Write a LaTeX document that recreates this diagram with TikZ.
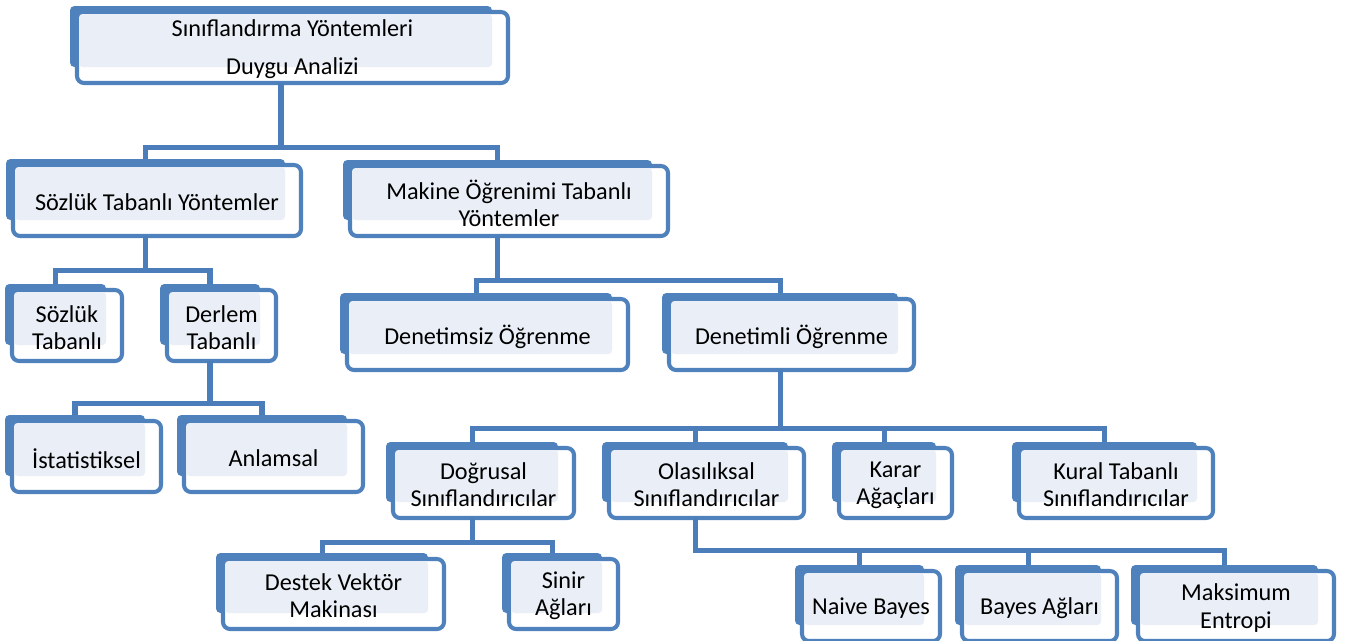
\documentclass[tikz,border=0pt]{standalone}
\usepackage{fontspec}
\setmainfont{Carlito}

\definecolor{kutumavi}{HTML}{4F81BD}
\definecolor{kutuacik}{HTML}{EAEFF7}
\definecolor{hatmavi}{HTML}{4A7DB9}

% Box: back plate, front frame, light inner field and label
\newcommand{\kutu}[6]{%
	\fill [kutuarka] (#2, #3) rectangle (#4, #5);
	\filldraw [kutuon] (#2 + 7, #3 + 6) rectangle (#4 + 16, #5 + 16);
	\fill [kutuic] (#2 + 9, #3 + 8) rectangle (#4, #5);
	\node [metin] (#1) at ({(#2 + #4) / 2 + 11.5}, {(#3 + #5) / 2 + 13}) {#6};
	\coordinate (#1-ust) at ({(#2 + #4) / 2}, #3);
	\coordinate (#1-alt) at ({(#2 + #4) / 2}, #5 + 16);
}

\begin{document}
\begin{tikzpicture}[x = 0.02cm, y = -0.02cm,
	kutuarka/.style = {fill = kutumavi, rounded corners = 2.5pt},
	kutuon/.style = {fill = white, draw = kutumavi, line width = 2.3pt, rounded corners = 4pt},
	kutuic/.style = {fill = kutuacik, rounded corners = 2pt},
	metin/.style = {align = center, inner sep = 0pt, font = \fontsize{13.8}{15.4}\selectfont},
	baglanti/.style = {draw = hatmavi, line width = 2.85pt}]

	% Frame

	\useasboundingbox (0, 0) rectangle (1349, 640);

	% Level 1

	\kutu{kok}{70}{6}{492}{67}{S\i n\i fland\i rma Yöntemleri\\[6.2pt]Duygu Analizi}

	% Level 2

	\kutu{sozlukY}{6}{159}{285}{220}{Sözlük Tabanl\i{} Yöntemler}
	\kutu{makine}{343}{160}{652}{220}{Makine Öğrenimi Tabanl\i\\Yöntemler}

	% Level 3

	\kutu{sozluk}{5}{284}{106}{345}{Sözlük\\Tabanl\i}
	\kutu{derlem}{160}{284}{260}{345}{Derlem\\Tabanl\i}
	\kutu{denetimsiz}{340}{293}{612}{354}{Denetimsiz Öğrenme}
	\kutu{denetimli}{662}{293}{898}{354}{Denetimli Öğrenme}

	% Level 4

	\kutu{istat}{5}{415}{145}{476}{İstatistiksel}
	\kutu{anlam}{177}{415}{347}{476}{Anlamsal}
	\kutu{dogrusal}{386}{442}{558}{502}{Doğrusal\\S\i n\i fland\i r\i c\i lar}
	\kutu{olasilik}{602}{442}{788}{502}{Olas\i l\i ksal\\S\i n\i fland\i r\i c\i lar}
	\kutu{karar}{832}{442}{936}{502}{Karar\\Ağaçlar\i}
	\kutu{kural}{1012}{442}{1197}{502}{Kural Tabanl\i\\S\i n\i fland\i r\i c\i lar}

	% Level 5

	\kutu{destek}{216}{553}{428}{613}{Destek Vektör\\Makinas\i}
	\kutu{sinir}{502}{553}{602}{613}{Sinir\\Ağlar\i}
	\kutu{naive}{795}{565}{924}{625}{Naive Bayes}
	\kutu{bayes}{955}{565}{1101}{625}{Bayes Ağlar\i}
	\kutu{maks}{1131}{565}{1318}{625}{Maksimum\\Entropi}

	% Connectors

	\begin{scope}[baglanti]

		\draw (kok-alt) -- ++(0, 64) -| (sozlukY-ust);
		\draw (kok-alt) -- ++(0, 64) -| (makine-ust);

		\draw (sozlukY-alt) -- ++(0, 34) -| (sozluk-ust);
		\draw (sozlukY-alt) -- ++(0, 34) -| (derlem-ust);

		\draw (makine-alt) -- ++(0, 44) -| (denetimsiz-ust);
		\draw (makine-alt) -- ++(0, 44) -| (denetimli-ust);

		\draw (derlem-alt) -- ++(0, 42) -| (istat-ust);
		\draw (derlem-alt) -- ++(0, 42) -| (anlam-ust);

		\foreach \cocuk in {dogrusal, olasilik, karar, kural}
			\draw (denetimli-alt) -- ++(0, 58) -| (\cocuk-ust);

		\draw (dogrusal-alt) -- ++(0, 24) -| (destek-ust);
		\draw (dogrusal-alt) -- ++(0, 24) -| (sinir-ust);

		\foreach \cocuk in {naive, bayes, maks}
			\draw (olasilik-alt) -- ++(0, 32) -| (\cocuk-ust);

	\end{scope}

\end{tikzpicture}
\end{document}
